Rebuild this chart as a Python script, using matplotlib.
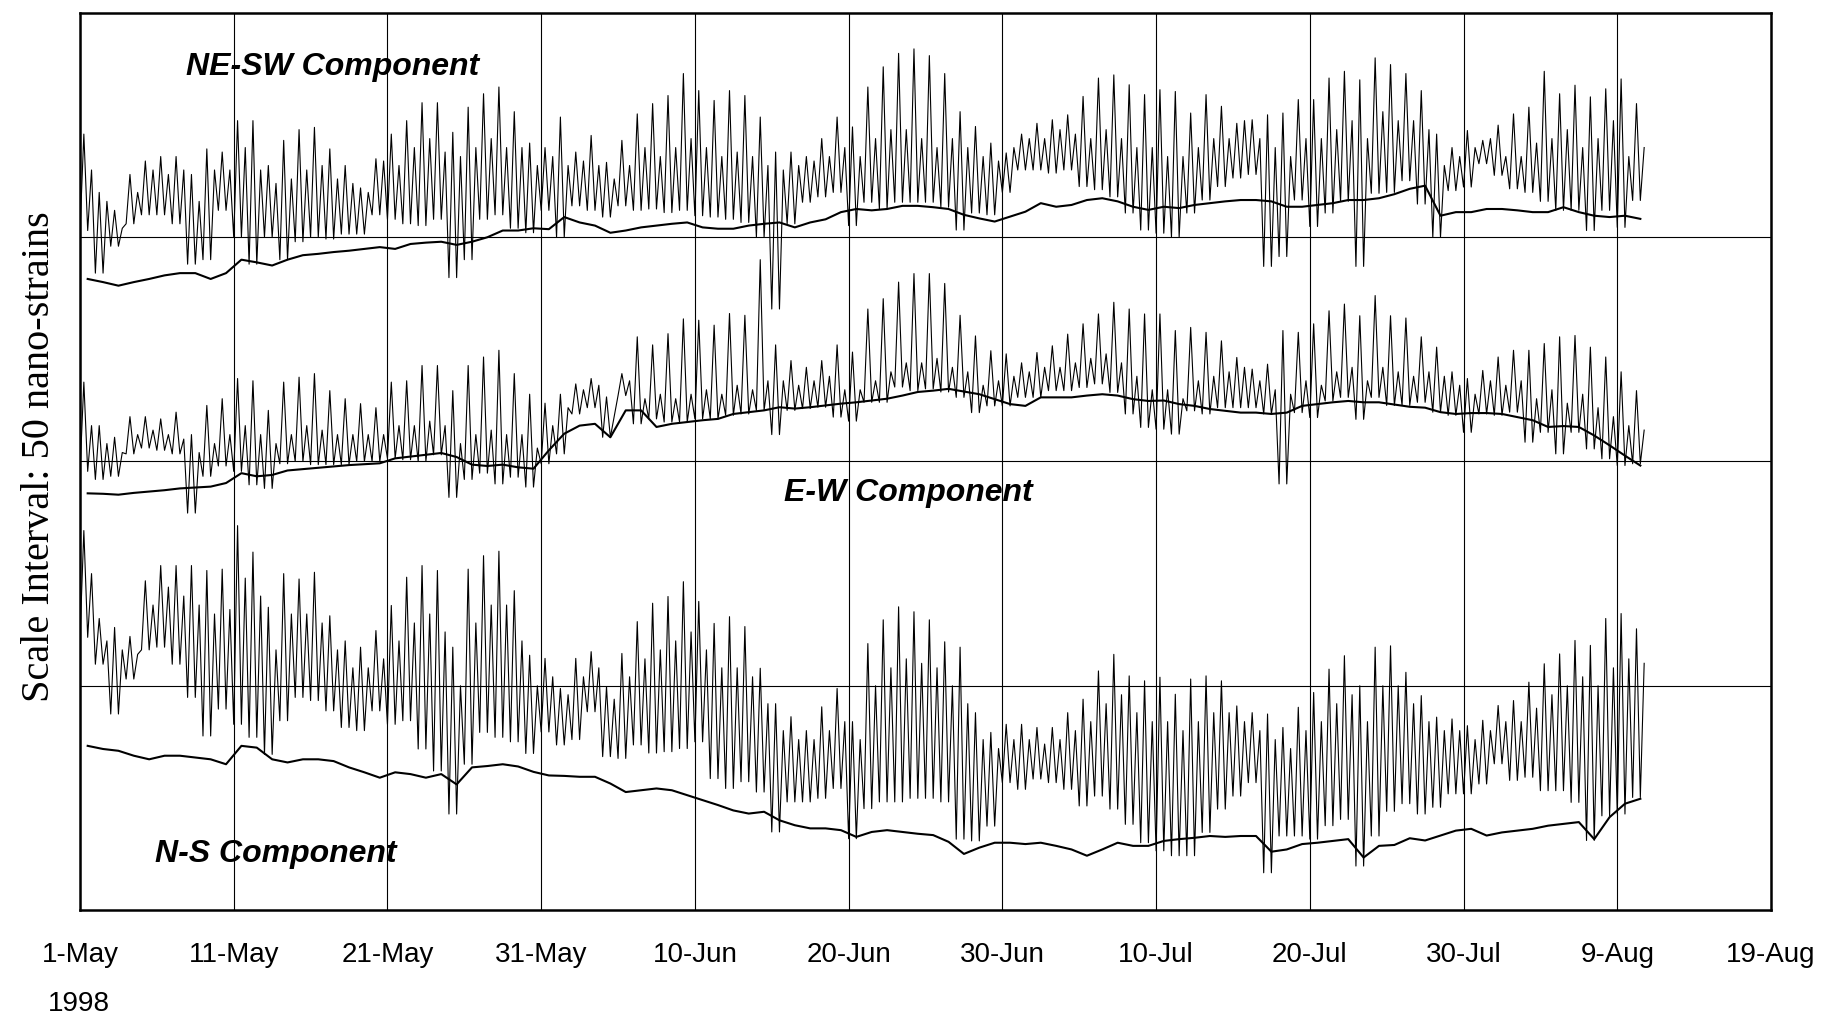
import numpy as np
import matplotlib
matplotlib.use("Agg")
import matplotlib.pyplot as plt

# day index 0 = 1-May-1998; values in nano-strains (grid step 50)
tick_labels = ["1-May", "11-May", "21-May", "31-May", "10-Jun", "20-Jun",
               "30-Jun", "10-Jul", "20-Jul", "30-Jul", "9-Aug", "19-Aug"]

# NE-SW component: daily main peak, secondary peak, trough, and slow trace
ne_hi = [
    173, 160, 156, 164, 167, 168, 168, 164, 169.7, 169,
    176, 176, 166, 171.6, 174, 174.5, 169.7, 166, 161, 167.5,
    173, 176, 180, 180, 173.4, 179, 182, 183.5, 178, 171,
    170, 176.8, 169, 172.7, 166.7, 171.6, 177.5, 179.8, 181.6, 186.5,
    182.7, 180.5, 182.7, 181.6, 176.8, 169, 169, 168, 172, 176.8,
    174.6, 183.5, 188, 191, 192, 190.5, 186.5, 178, 174.7, 171,
    168.8, 173, 175.4, 176.2, 177.3, 181.4, 185.5, 186.2, 184, 181.8,
    182.9, 182.5, 177.7, 181.8, 179.2, 175.4, 176.2, 177.3, 177.7, 180.7,
    180.7, 185.5, 187, 185.1, 190, 188.5, 186.5, 182.7, 173, 170,
    173.8, 171.6, 175, 177.5, 179, 187, 182, 183.9, 181.3, 183.1,
    185.3, 179.8]
ne_hi2 = [
    165, 158, 152, 160, 165, 164, 165, 158, 165, 165,
    170, 165, 162, 163, 165, 166, 163, 162, 160, 167,
    166, 170, 172, 169, 168, 170, 172, 170, 170, 166,
    168, 166, 167, 166, 163, 166, 170, 168, 170, 172,
    170, 168, 169, 168, 166, 165, 166, 167, 168, 170,
    168, 172, 174, 174, 172, 170, 172, 170, 168, 167,
    170, 172, 172, 174, 173, 172, 174, 172, 170, 170,
    168, 168, 170, 172, 172, 176, 172, 170, 168, 172,
    172, 174, 176, 172, 178, 176, 176, 174, 166, 168,
    170, 172, 168, 168, 171, 172, 174, 170, 172, 176,
    168, 170]
ne_lo = [
    151.5, 142, 148, 153, 155, 155, 153, 144, 145, 156,
    150, 144, 150, 145, 149, 150, 149.6, 150.7, 150.7, 155,
    154, 153, 152.6, 154, 141, 145, 154, 155, 152, 151,
    156, 150, 157, 156, 154.5, 157, 156, 156.3, 155.5, 156,
    154.8, 154.5, 154, 153.3, 150, 134, 153, 157.8, 159, 160,
    152.6, 157.8, 156.3, 157.8, 157.8, 157.8, 156.7, 151.6, 155.4, 155,
    160, 165, 165, 164.3, 165, 161.3, 160.6, 159, 155.4, 151.6,
    150.9, 150, 155.4, 158.3, 161.3, 163.2, 164, 143.5, 145.7, 158.3,
    152.4, 155.4, 158, 143.5, 159.8, 160, 162.6, 157.4, 150, 160.4,
    161.2, 166.4, 163.8, 160.8, 160, 158, 156, 156, 151.5, 156,
    152.2, 158.2]
ne_base = [
    140.7, 140, 139.2, 140, 140.7, 141.5, 142, 142, 140.7, 142,
    145, 144.4, 143.7, 145, 146, 146.3, 146.7, 147, 147.4, 147.8,
    147.4, 148.5, 148.8, 149, 148.3, 149, 150, 151.5, 151.5, 152,
    151.8, 154.5, 153.3, 152.6, 151, 151.5, 152.2, 152.6, 153, 153.3,
    152.2, 151.9, 151.9, 152.6, 153, 153.3, 152.2, 153.3, 154, 155.6,
    156.3, 156, 156.3, 157, 157, 156.7, 156.3, 155, 154.2, 153.5,
    154.6, 155.7, 157.6, 156.8, 157.2, 158.3, 158.7, 158, 156.8, 156.1,
    156.8, 156.5, 157.2, 157.6, 158, 158.3, 158.3, 158, 156.8, 156.8,
    157.2, 157.6, 158.3, 158.3, 158.7, 159.6, 160.8, 161.5, 154.8, 155.6,
    155.6, 156.3, 156.3, 156, 155.6, 155.6, 156.7, 155.6, 154.8, 154.5,
    154.8, 154.1]

# E-W component
ew_hi = [
    117.7, 108, 105.4, 110, 110, 109.5, 111, 106, 112.5, 114,
    118.5, 118, 111.4, 117.7, 118.8, 119.6, 115.8, 114, 112.9, 112,
    117.7, 118, 121.4, 121.4, 115.8, 121.4, 123.3, 124.8, 119.6, 115,
    113, 115, 117.3, 118.5, 114.4, 119.6, 127.8, 126, 128.5, 131.8,
    131.5, 130.4, 133, 132.6, 145, 126, 122.5, 121, 122.5, 126,
    124.4, 134, 136.3, 140, 141.9, 141.9, 139.7, 132.6, 128, 124.7,
    124, 122, 124.3, 125.8, 128.4, 130.7, 132.9, 135.5, 134, 132.9,
    132.9, 129.2, 129.9, 128.8, 126.9, 123.2, 120.6, 121.7, 129.2, 128.8,
    130.7, 133.6, 135.1, 132.5, 137, 132.5, 132, 127.8, 125.5, 120,
    118.5, 120.3, 123.3, 124.8, 124.8, 126.3, 127.8, 128.1, 125.5, 123.3,
    120, 115.8]
ew_hi2 = [
    108, 104, 102, 106, 107, 106, 105, 102, 104, 106,
    108, 106, 104, 106, 108, 107, 106, 106, 106, 106,
    108, 108, 109, 108, 104, 106, 107, 106, 106, 103,
    108, 112, 116, 117, 110, 118, 114, 115, 114, 115,
    116, 115, 117, 116, 118, 118, 117, 118, 119, 116,
    116, 118, 120, 122, 122, 123, 121, 120, 117, 118,
    119, 120, 121, 121, 122, 123, 124, 122, 119, 116,
    116, 114, 118, 119, 120, 121, 118, 116, 115, 118,
    117, 120, 121, 118, 121, 120, 119, 120, 119, 117,
    115, 118, 117, 118, 114, 116, 113, 115, 112, 110,
    108, 107]
ew_lo = [
    97.8, 96, 96.7, 101.7, 103, 102.5, 101.7, 88.5, 96.7, 99,
    97.8, 94.8, 94, 99.5, 100, 99.3, 99.3, 99.3, 100, 100,
    100.7, 100.4, 100, 101.5, 92, 96, 97.4, 95, 96.5, 94.3,
    99.5, 101.7, 110.6, 112, 105.4, 114.7, 108.4, 109.5, 108.8, 108.8,
    109.5, 109.5, 110.3, 110.6, 111.4, 106, 111.4, 111.8, 112.1, 109.9,
    109, 113.2, 113.2, 116.6, 115.8, 116.2, 115.5, 114.3, 110.9, 112.4,
    112.4, 114.3, 114.3, 115.8, 115.8, 116.5, 117.3, 115.4, 110.6, 107.6,
    107.2, 106.1, 111.3, 110.6, 112, 112, 112, 110.6, 95, 110.9,
    109.8, 113.5, 114.3, 109.4, 114.3, 112.5, 112.5, 113.2, 111, 110.3,
    106.5, 110.6, 110.3, 111, 104.3, 106.5, 101.7, 106.5, 102.8, 100.6,
    99.1, 99.5]
ew_base = [
    92.9, 92.8, 92.6, 93, 93.3, 93.6, 94, 94.2, 94.4, 95.2,
    97.4, 96.7, 97, 98, 98.3, 98.6, 98.9, 99.2, 99.4, 99.6,
    100.7, 101.1, 101.5, 101.9, 101, 99.3, 99, 99.3, 98.7, 98.4,
    102.5, 106.2, 108, 108.4, 105.4, 111.4, 111.4, 107.7, 108.4, 108.8,
    109.2, 109.5, 110.6, 111, 111.4, 112.1, 111.8, 112.1, 112.5, 112.9,
    113.2, 113.6, 114, 114.7, 115.5, 115.8, 116.2, 115.6, 115, 113.9,
    112.8, 112.4, 114.3, 114.3, 114.3, 114.7, 115, 114.7, 113.9, 113.5,
    113.6, 112.8, 112.4, 111.7, 111.3, 110.9, 110.9, 110.6, 110.9, 112.4,
    112.8, 113.2, 113.5, 113.2, 113.2, 112.7, 112.2, 112, 111, 110.6,
    110.8, 110.8, 110.6, 109.9, 109.2, 107.7, 107.9, 107.7, 105.8, 103.6,
    101.3, 99.1]

# N-S component
ns_hi = [
    84.6, 65, 63, 61, 73.4, 76.8, 76.8, 76.8, 75.7, 76,
    85.7, 79.8, 67.5, 75, 73.8, 75.3, 65.6, 60, 58.6, 62.3,
    67.9, 74.2, 76.8, 75.7, 58.6, 76, 79, 80, 71.2, 56.8,
    56.1, 49.4, 56.1, 57.6, 49.8, 57.2, 64.3, 68.4, 69.9, 73.2,
    68.8, 63.9, 65.4, 63.2, 53.9, 46, 43.1, 40, 45.3, 49.4,
    42, 59.4, 64.7, 67.6, 66.5, 64.7, 59.8, 58.6, 44, 39.6,
    41.4, 41.4, 40.7, 40.7, 44, 47, 53.3, 57, 52.2, 51.1,
    51.9, 48.1, 51.5, 52.2, 51.1, 45.5, 44, 43.7, 40.7, 45.2,
    48.5, 53.7, 56.7, 50, 58.6, 58.9, 53, 47.8, 43, 42.6,
    41.1, 42.3, 45.6, 46.7, 50.8, 54.9, 57.1, 60.1, 59, 65,
    66.1, 62.7]
ns_hi2 = [
    75, 60, 58, 57, 68, 72, 70, 68, 66, 67,
    74, 70, 58, 66, 66, 64, 58, 54, 54, 56,
    60, 64, 66, 62, 50, 64, 68, 68, 60, 50,
    52, 48, 52, 54, 47, 52, 56, 58, 60, 62,
    58, 54, 54, 52, 46, 40, 38, 38, 40, 42,
    38, 50, 54, 56, 55, 54, 50, 46, 38, 36,
    38, 38, 37, 38, 40, 42, 46, 48, 44, 42,
    42, 40, 42, 44, 44, 42, 40, 38, 36, 40,
    42, 46, 48, 42, 50, 50, 46, 42, 40, 40,
    38, 40, 42, 42, 45, 48, 50, 52, 50, 54,
    56, 55]
ns_lo = [
    60.8, 54.8, 43.7, 51.5, 58, 58.6, 54.8, 47.4, 38.8, 44.8,
    41.4, 38.5, 34.7, 42.2, 47.4, 46.7, 44.4, 40.7, 40, 44.4,
    41.4, 42.2, 35.9, 31, 21.4, 32.5, 39.6, 38.5, 37.5, 34.9,
    39.7, 36.8, 38, 44.2, 34.2, 33.8, 36.8, 35, 35.3, 36,
    37.5, 29.3, 27.1, 28.6, 26.3, 17.4, 24.1, 24.1, 24.9, 27.1,
    15.9, 22.6, 24.1, 24.1, 24.9, 24.9, 24.1, 15.8, 15.4, 18.7,
    28.4, 26.9, 29.2, 28.4, 26.9, 23.2, 25.4, 22.5, 19.1, 15,
    13.2, 12.1, 12.1, 17.3, 22.5, 25.4, 28.4, 8.3, 16.5, 16.5,
    15.8, 18.8, 20.2, 9.8, 16.5, 22, 23.7, 21.4, 22.9, 25.9,
    25.9, 28.1, 32.6, 28.9, 29.6, 26.6, 26.6, 24, 15.5, 21,
    21.4, 25.1]
ns_base = [
    36.6, 35.9, 35.5, 34.4, 33.6, 34.4, 34.4, 34, 33.6, 32.5,
    36.6, 36.2, 33.6, 32.9, 33.6, 33.6, 33.2, 31.8, 30.7, 29.5,
    30.7, 30.3, 29.5, 30.3, 28, 31.8, 32.1, 32.5, 32, 30.8,
    30, 29.9, 29.7, 29.7, 28.2, 26.3, 26.7, 27.1, 26.7, 25.6,
    24.5, 23.4, 22.2, 21.5, 21.9, 20, 18.9, 18.2, 18.2, 17.8,
    16.3, 17.4, 17.8, 17.4, 17, 16.7, 15.2, 12.5, 13.9, 15,
    15, 14.7, 15, 14.3, 13.5, 12.1, 13.5, 15, 14.3, 14.3,
    15.4, 15.8, 16.1, 16.5, 16.3, 16.5, 16.5, 13, 13.5, 14.7,
    15, 15.4, 15.8, 11.7, 14.3, 14.5, 16, 15.5, 16.6, 17.7,
    18.1, 16.6, 17.3, 17.7, 18.1, 18.8, 19.2, 19.6, 15.8, 20.7,
    23.7, 24.8]

labels = {"NE-SW Component": (16.4, 188),
          "E-W Component": (53.9, 93),
          "N-S Component": (12.75, 12.5)}

days = np.arange(len(ne_hi))


def wiggle(lo, hi, hi2):
    # trough, main peak, trough, secondary peak for each day
    t = np.column_stack([days, days + 0.25, days + 0.5, days + 0.75]).ravel()
    v = np.column_stack([lo, hi, lo, hi2]).ravel()
    return t, v


fig = plt.figure(figsize=(18.38, 10.21), dpi=100)
ax = fig.add_axes([80 / 1838, 1 - 910 / 1021, 1691 / 1838, 897 / 1021])

for lo, hi, hi2, base in [(ne_lo, ne_hi, ne_hi2, ne_base),
                          (ew_lo, ew_hi, ew_hi2, ew_base),
                          (ns_lo, ns_hi, ns_hi2, ns_base)]:
    t, v = wiggle(lo, hi, hi2)
    ax.plot(t, v, color="black", lw=0.8)
    ax.plot(days + 0.5, base, color="black", lw=1.5)

ax.set_xlim(0, 110)
ax.set_ylim(0, 200)
ax.set_xticks(np.arange(0, 111, 10))
ax.set_xticklabels(tick_labels, fontsize=20, family="Liberation Sans")
ax.set_yticks([50, 100, 150])
ax.set_yticklabels([])
ax.tick_params(length=0)
ax.tick_params(axis="x", pad=23)
ax.grid(True, color="black", lw=0.8)
ax.set_axisbelow(True)
for s in ax.spines.values():
    s.set_linewidth(1.8)

ax.set_ylabel("Scale Interval: 50 nano-strains", family="Liberation Serif",
              fontsize=29, va="center")
ax.yaxis.set_label_coords(-0.0242, 0.505)

for txt, (x, y) in labels.items():
    ax.text(x, y, txt, ha="center", va="center", fontsize=23,
            family="Liberation Sans", weight="bold", style="italic")

fig.text(79 / 1838, 1 - 1004 / 1021, "1998", ha="center", va="center",
         fontsize=20, family="Liberation Sans")

fig.savefig("out.png", dpi=100)
